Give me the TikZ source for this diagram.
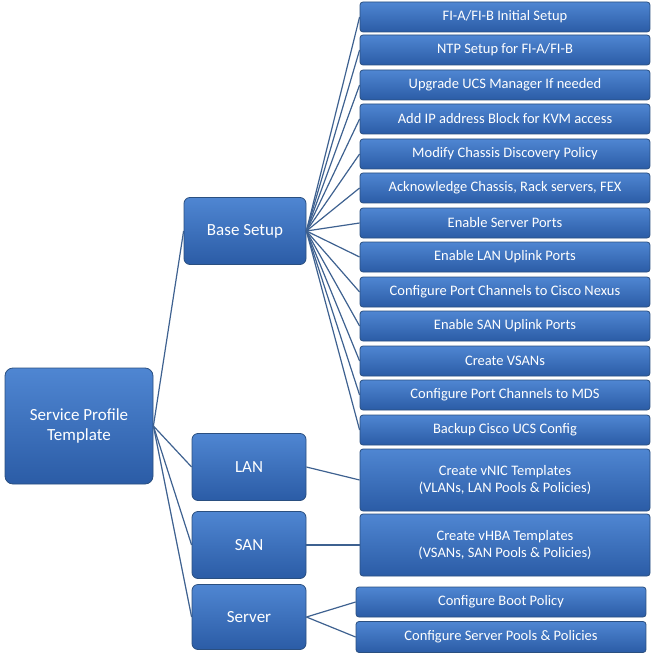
\documentclass[tikz,border=0pt]{standalone}
\usepackage{fontspec}
\setmainfont{Carlito}
\begin{document}
\begin{tikzpicture}[x=1pt,y=-1pt,
  box/.style={draw=bord, line width=0.8pt, rounded corners=3pt, top color=cA, bottom color=cB, text=white, align=center, inner sep=1pt, font=\fontsize{14.5}{17}\selectfont},
  big/.style={box, rounded corners=8pt, font=\fontsize{17}{20}\selectfont},
  mid/.style={box, rounded corners=6pt, font=\fontsize{17}{20}\selectfont},
  ln/.style={draw=lnc, line width=1.2pt}]
\definecolor{cA}{HTML}{4F86D2}
\definecolor{cB}{HTML}{2B5CA6}
\definecolor{bord}{HTML}{2A4F80}
\definecolor{lnc}{HTML}{3E6190}
\useasboundingbox (0,0) rectangle (654,660);
\node[big, minimum width=148, minimum height=116] (spt) at (79,426) {Service Profile\\Template};
\node[mid, minimum width=122, minimum height=67] (base) at (245,231) {Base Setup};
\node[mid, minimum width=114, minimum height=67] (lan) at (249,467) {LAN};
\node[mid, minimum width=114, minimum height=67] (san) at (249,545) {SAN};
\node[mid, minimum width=114, minimum height=65] (srv) at (249,617) {Server};
\foreach \n/\y/\t in {b1/17/{FI-A/FI-B Initial Setup}, b2/50/{NTP Setup for FI-A/FI-B}, b3/85/Upgrade UCS Manager If needed, b4/119/Add IP address Block for KVM access, b5/154/Modify Chassis Discovery Policy, b6/188/{Acknowledge Chassis, Rack servers, FEX}, b7/223/Enable Server Ports, b8/257/Enable LAN Uplink Ports, b9/292/Configure Port Channels to Cisco Nexus, b10/326/Enable SAN Uplink Ports, b11/361/Create VSANs, b12/395/Configure Port Channels to MDS, b13/430/Backup Cisco UCS Config}{
  \node[box, minimum width=290, minimum height=30] (\n) at (505,\y) {\t};
  \draw[ln] (base.east) -- (\n.west);
}
\node[box, minimum width=290, minimum height=62] (vnic) at (505,480) {Create vNIC Templates\\(VLANs, LAN Pools \& Policies)};
\node[box, minimum width=290, minimum height=62] (vhba) at (505,545) {Create vHBA Templates\\(VSANs, SAN Pools \& Policies)};
\node[box, minimum width=290, minimum height=30] (boot) at (501,602) {Configure Boot Policy};
\node[box, minimum width=290, minimum height=31] (pool) at (501,637) {Configure Server Pools \& Policies};
\foreach \p in {base,lan,san,srv} \draw[ln] (spt.east) -- (\p.west);
\draw[ln] (lan.east) -- (vnic.west);
\draw[ln] (san.east) -- (vhba.west);
\draw[ln] (srv.east) -- (boot.west);
\draw[ln] (srv.east) -- (pool.west);
\end{tikzpicture}
\end{document}
